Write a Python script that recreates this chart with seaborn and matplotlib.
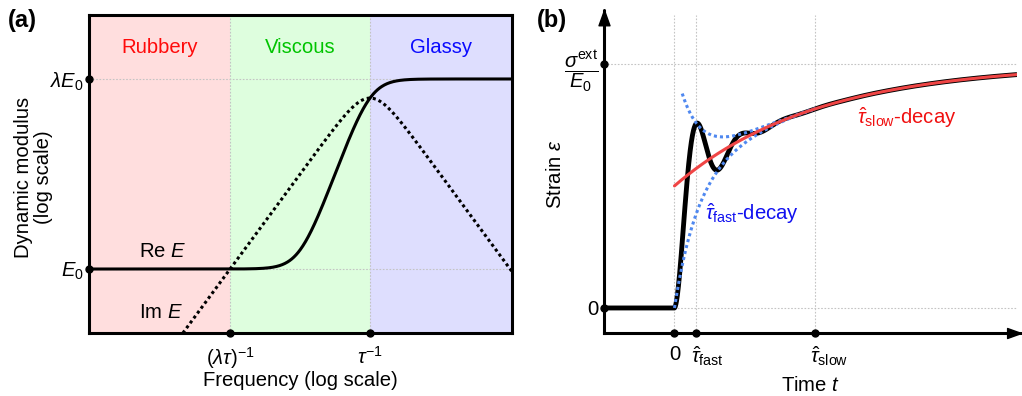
import numpy as np
import pandas as pd
import matplotlib
matplotlib.use("Agg")
import matplotlib.pyplot as plt
import seaborn as sns

# ---------------- Panel (a): dynamic modulus of a standard linear solid ----------------
lam = 1000.0            # glassy / rubbery modulus ratio
tau = 1.0               # relaxation time
E0 = 1.0                # rubbery modulus
freq_exponents = [-6.02, 3.04]          # log10 frequency range shown
modulus_exponents = [-1.01, 4.01]       # log10 modulus range shown
region_names = ["Rubbery", "Viscous", "Glassy"]
region_fill = ["#ffdede", "#defede", "#dedefe"]
region_text = ["#ff0a0a", "#00c400", "#0a0aff"]
freq_ticks = [1.0 / (lam * tau), 1.0 / tau]
freq_tick_labels = [r"$(\lambda\tau)^{-1}$", r"$\tau^{-1}$"]
modulus_ticks = [E0, lam * E0]
modulus_tick_labels = [r"$E_0$", r"$\lambda E_0$"]

# ---------------- Panel (b): creep strain after a step stress ----------------
eps_inf = 1.0           # long-time strain sigma_ext / E0
slow_amp = 0.5          # amplitude of slow relaxation
fast_amp = 0.5          # amplitude of damped oscillation
tau_fast = 0.156
tau_slow = 1.0
time_limits = [-0.5, 2.43]
strain_limits = [-0.1025, 1.2]
time_ticks = [0.0, tau_fast, tau_slow]
time_tick_labels = ["0", r"$\hat{\tau}_{\rm fast}$", r"$\hat{\tau}_{\rm slow}$"]
strain_ticks = [0.0, eps_inf]
strain_tick_labels = ["0", r"$\dfrac{\sigma^{\rm ext}}{E_0}$"]

# ---------------- style ----------------
sns.set_theme(style="white")
plt.rcParams["font.family"] = ["Liberation Sans", "DejaVu Sans"]
plt.rcParams["mathtext.fontset"] = "custom"
plt.rcParams["mathtext.rm"] = "Liberation Sans"
plt.rcParams["mathtext.it"] = "Liberation Sans:italic"
plt.rcParams["mathtext.bf"] = "Liberation Sans:bold"
for key in ("text.color", "axes.labelcolor", "xtick.color", "ytick.color"):
    plt.rcParams[key] = "black"

FS = 14.6
grid_kw = dict(color="#c4c4c4", lw=0.8, ls=(0, (1.5, 1.5)), zorder=1)
dot_kw = dict(marker="o", color="black", ms=5, clip_on=False, zorder=10, ls="none")
# arrow heads for the open axes: tip of the path sits at the marker position
head_up = [(0, 0), (-0.36, -1), (0.36, -1), (0, 0)]
head_right = [(0, 0), (-1, 0.36), (-1, -0.36), (0, 0)]

fig = plt.figure(figsize=(10.22, 3.96), dpi=100)
ax_a = fig.add_axes([89 / 1022, 63 / 396, 423 / 1022, 318 / 396])
ax_b = fig.add_axes([604 / 1022, 63 / 396, 413 / 1022, 318 / 396])

# ======== panel (a) ========
ax = ax_a
w = np.logspace(freq_exponents[0], freq_exponents[1], 800)
u = w * tau
re_E = E0 * (1 + lam * u**2) / (1 + u**2)
im_E = E0 * (lam - 1) * u / (1 + u**2)
df_a = pd.DataFrame({"w": w, "re": re_E, "im": im_E})

xmin, xmax = 10 ** freq_exponents[0], 10 ** freq_exponents[1]
ymin, ymax = 10 ** modulus_exponents[0], 10 ** modulus_exponents[1]
ax.set_xscale("log")
ax.set_yscale("log")
ax.set_xlim(xmin, xmax)
ax.set_ylim(ymin, ymax)

bounds = [xmin, freq_ticks[0], freq_ticks[1], xmax]
for i, name in enumerate(region_names):
    ax.axvspan(bounds[i], bounds[i + 1], color=region_fill[i], lw=0, zorder=0)
    xc = np.sqrt(bounds[i] * bounds[i + 1])
    ax.text(xc, 10 ** 3.5, name, color=region_text[i], fontsize=FS,
            ha="center", va="center")

for f in freq_ticks:
    ax.axvline(f, **grid_kw)
for m in modulus_ticks:
    ax.axhline(m, **grid_kw)

sns.lineplot(data=df_a, x="w", y="re", ax=ax, color="black", lw=2.2,
             sort=False, zorder=3)
sns.lineplot(data=df_a, x="w", y="im", ax=ax, color="black", lw=2.2,
             sort=False, zorder=3, linestyle=(0, (1, 1)), dash_capstyle="butt")

ax.text(10 ** -4.44, 10 ** 0.27, r"Re $E$", fontsize=FS, ha="center", va="center")
ax.text(10 ** -4.47, 10 ** -0.68, r"Im $E$", fontsize=FS, ha="center", va="center")

ax.set_xticks(freq_ticks)
ax.set_xticklabels(freq_tick_labels)
ax.set_yticks(modulus_ticks)
ax.set_yticklabels(modulus_tick_labels)
ax.minorticks_off()
ax.tick_params(axis="both", length=0, labelsize=FS)
ax.tick_params(axis="x", pad=9)
ax.tick_params(axis="y", pad=4)
ax.set_xlabel("Frequency (log scale)", fontsize=FS)
ax.xaxis.set_label_coords(0.5, -0.12)
ax.set_ylabel("Dynamic modulus\n(log scale)", fontsize=FS, linespacing=1.05)
ax.yaxis.set_label_coords(-0.085, 0.49)
for s in ax.spines.values():
    s.set_linewidth(2.2)
    s.set_color("black")
    s.set_zorder(5)
ax.plot([xmin, xmin], modulus_ticks, **dot_kw)
ax.plot(freq_ticks, [ymin, ymin], **dot_kw)
ax.set_facecolor("white")
fig.text(8 / 1022, 1 - 21 / 396, "(a)", fontsize=17, fontweight="bold",
         va="center", ha="left")

# ======== panel (b) ========
ax = ax_b
t = np.linspace(time_limits[0], time_limits[1], 2000)
t = np.union1d(t, [0.0])
omega = np.pi / tau_fast
a = 1.0 / (omega * tau_fast)
tp = np.clip(t, 0, None)
slow = eps_inf - slow_amp * np.exp(-tp / tau_slow)
osc = fast_amp * np.exp(-tp / tau_fast) * (np.cos(omega * tp) + a * np.sin(omega * tp))
strain = np.where(t < 0, 0.0, slow - osc)
df_b = pd.DataFrame({"t": t, "strain": strain})

ts = np.linspace(0, time_limits[1], 800)
df_slow = pd.DataFrame({"t": ts, "v": eps_inf - slow_amp * np.exp(-ts / tau_slow)})
tl = np.linspace(0, 1.0, 400)
df_low = pd.DataFrame({"t": tl, "v": eps_inf - slow_amp * np.exp(-tl / tau_slow)
                       - fast_amp * np.exp(-tl / tau_fast)})
tu = np.linspace(0.055, 1.0, 400)
df_up = pd.DataFrame({"t": tu, "v": eps_inf - slow_amp * np.exp(-tu / tau_slow)
                      + fast_amp * np.exp(-tu / tau_fast)})

ax.set_xlim(*time_limits)
ax.set_ylim(*strain_limits)

for tt in time_ticks:
    ax.axvline(tt, **grid_kw)
for ss in strain_ticks:
    ax.axhline(ss, **grid_kw)

sns.lineplot(data=df_b, x="t", y="strain", ax=ax, color="black", lw=3.5,
             sort=False, zorder=3, solid_capstyle="butt")
blue = "#4f88f0"
for d in (df_low, df_up):
    sns.lineplot(data=d, x="t", y="v", ax=ax, color=blue, lw=2.2, sort=False,
                 zorder=4, linestyle=(0, (1, 1)), dash_capstyle="butt")
sns.lineplot(data=df_slow, x="t", y="v", ax=ax, color="#f04545", lw=2.2,
             sort=False, zorder=5)

ax.text(1.645, 0.78, r"$\hat{\tau}_{\rm slow}$-decay", color="#f01010",
        fontsize=FS, ha="center", va="center")
ax.text(0.55, 0.385, r"$\hat{\tau}_{\rm fast}$-decay", color="#1010f0",
        fontsize=FS, ha="center", va="center")

# time tick labels: "0" centred, the time constants start at their tick
ax.set_xticks(time_ticks)
ax.set_xticklabels([time_tick_labels[0]] + [""] * (len(time_ticks) - 1))
for tt, lab in zip(time_ticks[1:], time_tick_labels[1:]):
    ax.annotate(lab, xy=(tt, 0), xycoords=ax.get_xaxis_transform(),
                xytext=(-3.6, -8.2), textcoords="offset points",
                ha="left", va="top", fontsize=FS, annotation_clip=False)
ax.set_yticks(strain_ticks)
ax.set_yticklabels(strain_tick_labels)
ax.tick_params(axis="both", length=0, labelsize=FS)
ax.tick_params(axis="x", pad=9)
ax.tick_params(axis="y", pad=4)
ax.set_xlabel(r"Time $t$", fontsize=FS)
ax.xaxis.set_label_coords(0.5, -0.135)
ax.set_ylabel(r"Strain $\varepsilon$", fontsize=FS)
ax.yaxis.set_label_coords(-0.094, 0.5)
for side in ("top", "right"):
    ax.spines[side].set_visible(False)
for side in ("left", "bottom"):
    ax.spines[side].set_linewidth(2.2)
    ax.spines[side].set_color("black")
    ax.spines[side].set_zorder(6)
ax.plot([0], [1 + 5 / 318], marker=head_up, color="black", ms=22,
        transform=ax.transAxes, clip_on=False, zorder=10)
ax.plot([0, 0], [1, 1 + 5 / 318], color="black", lw=2.2,
        transform=ax.transAxes, clip_on=False, zorder=9)
ax.plot([1 + 4 / 413], [0], marker=head_right, color="black", ms=20,
        transform=ax.transAxes, clip_on=False, zorder=10)
ax.plot([1, 1 + 4 / 413], [0, 0], color="black", lw=2.2,
        transform=ax.transAxes, clip_on=False, zorder=9)
ax.plot([time_limits[0]] * 2, strain_ticks, **dot_kw)
ax.plot(time_ticks, [strain_limits[0]] * 3, **dot_kw)
ax.set_facecolor("white")
fig.text(537 / 1022, 1 - 21 / 396, "(b)", fontsize=17, fontweight="bold",
         va="center", ha="left")

fig.savefig("out.png", dpi=100)
